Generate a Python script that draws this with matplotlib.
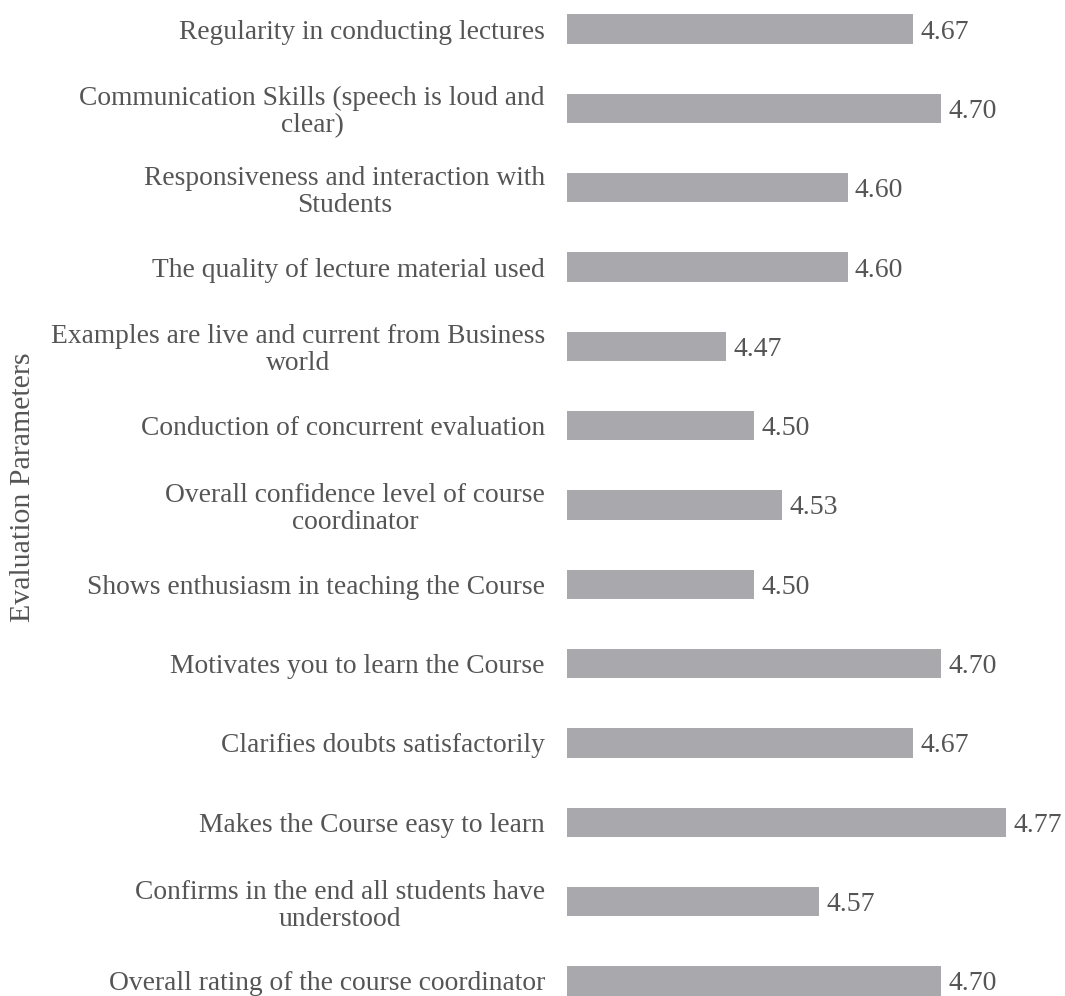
import matplotlib.pyplot as plt

# evaluation parameters, top to bottom as in the chart
params = [
    "Regularity in conducting lectures",
    "Communication Skills (speech is loud and\nclear)",
    "Responsiveness and interaction with\nStudents",
    "The quality of lecture material used",
    "Examples are live and current from Business\nworld",
    "Conduction of concurrent evaluation",
    "Overall confidence level of course\ncoordinator",
    "Shows enthusiasm in teaching the Course",
    "Motivates you to learn the Course",
    "Clarifies doubts satisfactorily",
    "Makes the Course easy to learn",
    "Confirms in the end all students have\nunderstood",
    "Overall rating of the course coordinator",
]
scores = [4.67, 4.70, 4.60, 4.60, 4.47, 4.50, 4.53, 4.50, 4.70, 4.67, 4.77, 4.57, 4.70]

plt.rcParams['font.family'] = ['Liberation Serif', 'DejaVu Serif']
txt_col = '#555555'
bar_col = '#a9a8ac'

fig = plt.figure(figsize=(10.65, 9.96), dpi=100)
left_px = 567
ax = fig.add_axes([left_px / 1065, 0, 1 - left_px / 1065, 1])

ypos = list(range(len(params)))
ax.barh(ypos, scores, height=0.37, color=bar_col)

for y, v in zip(ypos, scores):
    ax.text(v + 0.008, y, f"{v:.2f}", va='center_baseline', ha='left',
            fontsize=20, color=txt_col)

ax.set_yticks(ypos)
ax.set_yticklabels(params, fontsize=19.8, color=txt_col,
                   multialignment='center', linespacing=1.1)
ax.tick_params(axis='y', length=0, pad=16)
ax.set_xticks([])
ax.set_xlim(4.30, 4.30 + (1065 - left_px) / 935)
ax.set_ylim(12.19, -0.366)
for s in ax.spines.values():
    s.set_visible(False)

fig.text(23 / 1065, 1 - 487 / 996, "Evaluation Parameters", rotation=90,
         ha='center', va='center', fontsize=21.5, color=txt_col)

fig.savefig('out.png', dpi=100)
